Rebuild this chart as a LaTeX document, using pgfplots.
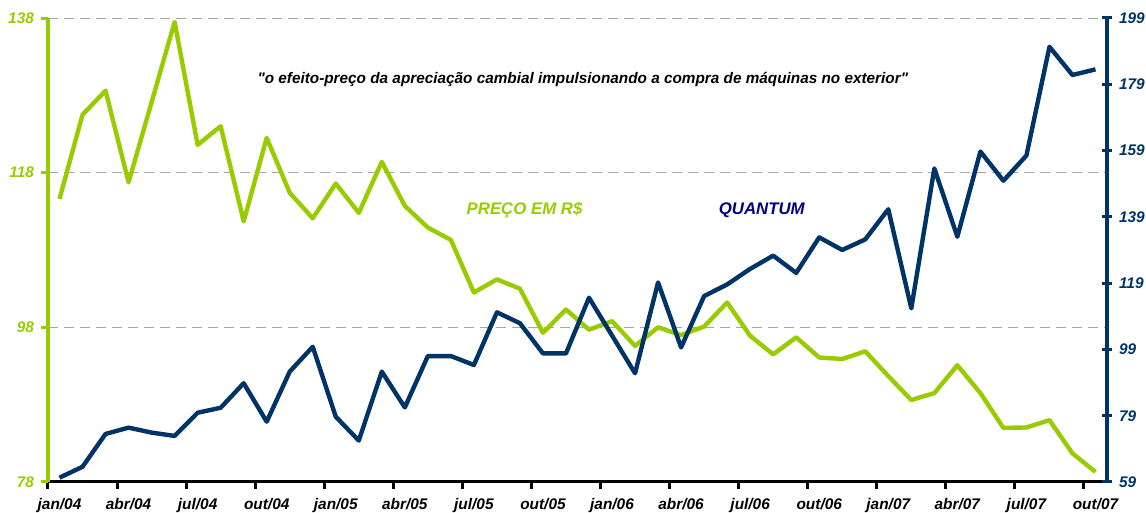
\documentclass[border=0pt]{standalone}
\usepackage{fontspec}
\setmainfont{Liberation Sans}
\usepackage{pgfplots}
\pgfplotsset{compat=1.18}
\definecolor{lime}{RGB}{153,204,0}
\definecolor{navyline}{RGB}{0,51,102}
\definecolor{navytext}{RGB}{0,0,128}

\pgfplotstableread{
i v
0 114.6
1 125.5
2 128.6
3 116.75
4 127.1
5 137.5
6 121.6
7 124.0
8 111.7
9 122.5
10 115.4
11 112.1
12 116.6
13 112.8
14 119.4
15 113.7
16 110.9
17 109.3
18 102.5
19 104.2
20 103.0
21 97.3
22 100.3
23 97.7
24 98.8
25 95.6
26 98.0
27 97.0
28 98.1
29 101.2
30 96.9
31 94.5
32 96.7
33 94.1
34 93.9
35 94.9
36 91.7
37 88.6
38 89.5
39 93.1
40 89.5
41 85.0
42 85.05
43 86.0
44 81.7
45 79.3
}\preco

\pgfplotstableread{
i v
0 60.3
1 63.6
2 73.5
3 75.4
4 73.9
5 72.9
6 79.9
7 81.4
8 88.8
9 77.2
10 92.3
11 99.8
12 78.7
13 71.5
14 92.3
15 81.5
16 97.0
17 97.0
18 94.3
19 110.2
20 106.9
21 97.8
22 97.8
23 114.6
24 103.2
25 91.8
26 119.2
27 99.6
28 115.1
29 118.6
30 123.3
31 127.3
32 122.1
33 132.8
34 129.0
35 132.2
36 141.3
37 111.4
38 153.6
39 133.0
40 158.7
41 149.9
42 157.5
43 190.3
44 181.8
45 183.5
}\quantum

\begin{document}
\begin{tikzpicture}
\pgfplotsset{
  common/.style={
    scale only axis, width=529.5pt, height=232pt,
    xmin=-0.5, xmax=45.5,
    /pgf/number format/assume math mode=true,
    tick label style={font=\fontsize{7.7}{9}\selectfont\bfseries\itshape},
    clip=false,
  }
}
\begin{axis}[common,
  ymin=78, ymax=138, ytick={78,98,118,138},
  axis x line*=bottom, axis y line*=left,
  axis line style={-},
  x axis line style={black, line width=1.5pt},
  y axis line style={lime, line width=2pt},
  ymajorgrids,
  grid style={gray!70, dash pattern=on 5pt off 3pt, line width=0.5pt},
  tick align=outside,
  major tick length=3.5pt,
  xtick={-0.5,2.5,...,44.5},
  xticklabels={},
  xtick style={black, line width=1.5pt},
  extra x ticks={0,3,...,45},
  extra x tick labels={jan/04,abr/04,jul/04,out/04,jan/05,abr/05,jul/05,out/05,jan/06,abr/06,jul/06,out/06,jan/07,abr/07,jul/07,out/07},
  extra x tick style={major tick length=0pt, grid=none, xticklabel style={yshift=-4.6pt}},
  xticklabel style={black},
  ytick style={lime, line width=1.5pt},
  yticklabel style={lime},
]
\addplot[lime, line width=2.2pt, line join=round] table[x=i, y=v] {\preco};
\node[font=\fontsize{7.66}{9.2}\selectfont\bfseries\itshape] at (rel axis cs:0.505,0.868) {\textquotedbl o efeito-preço da apreciação cambial impulsionando a compra de máquinas no exterior\textquotedbl};
\node[lime, font=\fontsize{8.4}{10}\selectfont\bfseries\itshape] at (rel axis cs:0.45,0.586) {PREÇO EM R\$};
\node[navytext, font=\fontsize{8.4}{10}\selectfont\bfseries\itshape] at (rel axis cs:0.674,0.586) {QUANTUM};
\end{axis}
\begin{axis}[common,
  ymin=59, ymax=199, ytick={59,79,...,199},
  axis x line=none, axis y line*=right,
  axis line style={-},
  y axis line style={navyline, line width=2pt},
  tick align=center, major tick length=5pt,
  ytick style={navyline, line width=1.5pt},
  yticklabel style={navyline},
]
\addplot[navyline, line width=2.2pt, line join=round] table[x=i, y=v] {\quantum};
\end{axis}
\pgfresetboundingbox
\useasboundingbox (-24pt,-15.5pt) rectangle (549pt,241pt);
\end{tikzpicture}
\end{document}
